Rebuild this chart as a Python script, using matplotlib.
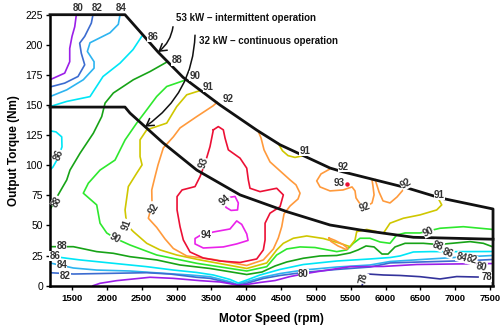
import numpy as np
import matplotlib.pyplot as plt

plt.rcParams['font.family'] = ['Liberation Sans', 'DejaVu Sans']

# operating envelopes (rpm, Nm)
int_rpm = [1184, 2260, 2734, 3093, 3624, 4155, 4485, 5202, 5389, 6307, 6781, 7541, 7541]
int_nm = [225, 225, 194, 173, 150, 129, 117, 97.7, 94.5, 81.2, 72.9, 63.7, 0]
cont_rpm = [1184, 2260, 2332, 2806, 3290, 3911, 4581, 5202, 5633, 6398, 7541]
cont_nm = [148.3, 148.3, 143.3, 118.6, 96, 75.4, 61.5, 50.4, 46.3, 40.2, 38.6]

c80_top_rpm = [1562, 1539, 1500, 1467, 1467, 1395, 1184]
c80_top_nm = [225, 215, 207, 197, 186, 176.5, 171]
c82_top_rpm = [1801, 1777, 1682, 1610, 1633, 1682, 1586, 1395, 1184]
c82_top_nm = [225, 218, 207, 201.4, 193, 183.4, 173.7, 168.2, 165]
c84_top_rpm = [2189, 2164, 2045, 1758, 1720, 1816, 1816, 1662, 1424, 1184]
c84_top_nm = [225, 217, 210, 201.7, 194.5, 186, 180.6, 171, 162.6, 157]
c86_top_rpm = [2500, 2375, 2189, 1945, 1758, 1424, 1184]
c86_top_nm = [207, 196, 184.8, 173.7, 157, 153, 148.7]
c86_left_rpm = [1184, 1270, 1352, 1356, 1299, 1227, 1184]
c86_left_nm = [128.6, 127.7, 123.6, 115.3, 106, 98.6, 96]
c88_top_rpm = [2870, 2619, 2380, 2093, 1974, 1926, 1806, 1615, 1471, 1424, 1232, 1184]
c88_top_nm = [186, 177.8, 171, 160, 151.6, 140.4, 126.6, 110, 96, 87.8, 68.5, 63]

c90_rpm = [3140, 2859, 2715, 2572, 2428, 2261, 2117, 1902, 1734, 1662, 1854, 1902, 1998, 2117,
           2332, 2715, 3289, 4007, 4294, 4437, 4581, 4772, 4987, 5299, 5442, 5537, 5633, 5776,
           5920, 6063, 6159, 6279, 6494, 6781, 7115, 7541]
c90_nm = [171, 165.4, 157.1, 146, 135, 121, 104.3, 96, 85.1, 76.8, 67.1, 51.9, 43.8, 39.4,
          33.8, 25.5, 18.6, 12.2, 15.8, 25.5, 30.5, 32.2, 31.7, 28.3, 29.7, 35.2, 39.4, 39.4,
          36.3, 35.2, 42.1, 43.8, 43.8, 47.7, 49, 46.7]

c91_rpm = [3337, 3146, 3002, 2859, 2572, 2476, 2476, 2505, 2428, 2308, 2261, 2285, 2380, 2572,
           2763, 3002, 3337, 4007, 4294, 4437, 4532, 4676, 4868, 5106, 5346, 5489, 5561, 5585,
           5729, 5824, 5967, 6063, 6254, 6494, 6733, 6805, 6750]
c91_nm = [162, 158.5, 148.7, 135, 129.4, 121.1, 107.2, 100.3, 93.4, 82.3, 62.9, 50.4, 44.9, 35.2,
          29.7, 25.5, 21.4, 14.3, 18.9, 29.7, 35.2, 39.4, 41.3, 39.2, 35.2, 32.4, 38, 44.9,
          46.7, 45.5, 43.5, 51.9, 56, 58.8, 62.9, 67.1, 73]
c91_arc_rpm = [4460, 4520, 4600, 4700, 4820]
c91_arc_nm = [118, 112, 108, 106.5, 108]

c92_rpm = [3581, 3523, 3289, 3050, 2954, 2810, 2734, 2691, 2644, 2648, 2595, 2715, 2835, 2954,
           3146, 3528, 4007, 4245, 4389, 4460, 4509, 4542, 4629, 4743, 4772, 4714, 4629, 4485,
           4341, 4255, 4212, 4170]
c92_nm = [152.2, 149.3, 140.4, 131, 123.6, 114.4, 100.3, 90.6, 79.5, 67.1, 56, 48.4, 38.8, 30.9,
          24.7, 21.8, 16.8, 21.4, 30.5, 39.6, 49, 59.6, 66.2, 72, 76.8, 83.7, 87.8, 95.3,
          102.8, 112.8, 122.7, 128.5]
c92_r1_rpm = [5188, 5073, 5011, 5059, 5202, 5389, 5518, 5561, 5575, 5633, 5719, 5805, 5834, 5820, 5805]
c92_r1_nm = [96.5, 92.8, 87, 82, 78.7, 79.5, 82, 78.7, 72.9, 67.9, 65.4, 68.7, 75.4, 82, 88]
c92_r2_rpm = [5850, 5905, 5963, 6063, 6164, 6280]
c92_r2_nm = [88, 77.9, 70.4, 68.7, 73.7, 81.5]
c92_s_rpm = [5188, 5274, 5389, 5461, 5432, 5317, 5217, 5188]
c92_s_nm = [39.6, 37.6, 34.2, 30.9, 30.1, 33, 36.7, 39.6]

c93_rpm = [3528, 3599, 3671, 3696, 3743, 3911, 4007, 4030, 4054, 4198, 4437, 4532, 4485, 4341,
           4270, 4270, 4245, 4150, 3911, 3624, 3384, 3193, 3097, 3050, 3007, 3007, 3079, 3265,
           3337, 3409, 3480, 3528]
c93_nm = [129.4, 132.1, 129.4, 122.5, 112.8, 105.9, 97.6, 87.8, 80.9, 78.1, 80.9, 75.4, 65.6, 60.2,
          51.9, 38, 29.7, 22.2, 19.3, 20.5, 23, 28, 38, 49, 62.9, 74, 79.5, 82.3,
          90.6, 101.7, 115.5, 129.4]
c93_dot_rpm = [5446]
c93_dot_nm = [84.1]

c94a_rpm = [3667, 3753, 3839, 3886, 3875, 3782, 3710, 3667]
c94a_nm = [69.6, 73.3, 74.1, 68.7, 62.9, 62.5, 65, 69.6]
c94b_rpm = [3380, 3528, 3767, 3863, 3935, 4007, 4026, 3863, 3671, 3384, 3265, 3265, 3337]
c94b_nm = [42.1, 44.6, 47.1, 53.8, 50.9, 43, 37.6, 34.7, 32.2, 31.3, 34.7, 39.2, 41.7]

c88_bot_rpm = [1184, 1519, 1854, 2093, 2332, 2715, 3050, 3480, 4007, 4227, 4414, 4581, 4819, 5059,
               5299, 5489, 5604, 5719, 5834, 5948, 6035, 6135, 6279, 6541, 6752, 6949, 7211, 7402, 7541]
c88_bot_nm = [32.4, 32.4, 28.3, 26.9, 24.1, 21.4, 17.2, 14.3, 9.3, 11.4, 16.4, 19.7, 22.8, 24.7,
              25.1, 27.2, 29.7, 33, 32.2, 26.3, 26.3, 32.2, 35.2, 35.2, 34.2, 35.2, 36.6, 35.2, 32.2]
c86_bot_rpm = [1184, 1424, 1615, 2093, 2572, 2954, 3289, 3528, 3767, 3886, 4007, 4198, 4485, 4819,
               5299, 5776, 6063, 6207, 6398, 6637, 7068, 7541]
c86_bot_nm = [24.7, 22.8, 21.4, 18.6, 15.8, 13, 11, 8.9, 5.2, 2.2, 4.7, 8.9, 13.5, 17.6,
              20.5, 22.2, 23.4, 24.7, 28, 28.3, 28.3, 28.4]
c84_bot_rpm = [1184, 1519, 1854, 2332, 2810, 3193, 3480, 3767, 3863, 4007, 4245, 4485, 4819, 5299,
               5776, 6063, 6637, 7092, 7541]
c84_bot_nm = [18.9, 14.7, 13, 12.2, 10.3, 8.9, 7.5, 3.3, 1.2, 3.3, 7.2, 10.1, 13, 15.5,
              17.2, 20.1, 22.2, 23.8, 25.1]
c82_bot_rpm = [1184, 1519, 2093, 2572, 2906, 3289, 3480, 3767, 3886, 4007, 4245, 4485, 4819, 5299,
               5776, 6063, 6494, 7240, 7541]
c82_bot_nm = [10.8, 9.7, 10.3, 10.8, 9.7, 7, 6.1, 2.2, 0.6, 2, 6, 8.5, 11, 13.5,
              15.5, 18.9, 19.7, 20.9, 21.8]
c80_bot_rpm = [1801, 1902, 2141, 2619, 2954, 3337, 3624, 3815, 3886, 4007, 4198, 4414, 4629, 4819,
               5011, 5489, 5967, 6446, 6924, 7541]
c80_bot_nm = [0, 2, 4.2, 7, 6.1, 4.2, 3.1, 1.2, 0.4, 1, 2.7, 4.3, 7.6, 9.7,
              11.6, 15.8, 16, 17.6, 18, 18.4]
c78_rpm = [5662, 5690, 5748, 5967, 6207, 6494, 6781, 7020, 7326]
c78_nm = [0, 6.4, 9.7, 8.9, 8.5, 7.5, 5.6, 7.6, 7.2]

# contour labels: text, rpm, Nm, rotation
lab_txt = ['80', '82', '84', '86', '88', '90', '91', '92', '91', '92', '93', '92', '91', '92',
           '93', '94', '94', '92', '91', '90', '88', '86', '88', '86', '84', '82', '80',
           '90', '88', '86', '84', '82', '80', '78', '78']
lab_rpm = [1586, 1859, 2199, 2658, 3002, 3265, 3456, 3743, 4844, 5393, 5336, 6293, 6771, 5705,
           3384, 3696, 3423, 2667, 2285, 2117, 1280, 1303, 1352, 1256, 1352, 1400, 4819,
           6613, 6756, 6900, 7092, 7236, 7379, 7451, 5680]
lab_nm = [230.5, 230.5, 230.5, 206.4, 187, 174.3, 164.9, 154.9, 112.2, 98.4, 85.6, 84.5, 75.4, 65.2,
          101.7, 71.2, 42.1, 64.3, 50.4, 39.4, 69.8, 108.6, 33, 24.7, 17.2, 8.1, 9.7,
          44.9, 33, 27.4, 23.6, 21.4, 15.8, 7, 6.1]
lab_rot = [0, 0, 0, 0, 0, 0, 0, 0, 0, 0, 0, 30, 0, 20,
           70, 40, 0, 60, 70, -30, 60, 70, 0, 0, 0, 0, 0,
           25, -20, -20, -15, -15, -10, 0, 80]

col = {78: '#34339b', 80: '#9b1fe8', 82: '#3c6cd0', 84: '#2db4f0', 86: '#00e6f6',
       88: '#17a317', 90: '#2ee82e', 91: '#cfc700', 92: '#ff9a3c', 93: '#ec1035', 94: '#ea22ea'}

lines = [
    (c80_top_rpm, c80_top_nm, 80), (c82_top_rpm, c82_top_nm, 82), (c84_top_rpm, c84_top_nm, 84),
    (c86_top_rpm, c86_top_nm, 86), (c86_left_rpm, c86_left_nm, 86), (c88_top_rpm, c88_top_nm, 88),
    (c90_rpm, c90_nm, 90), (c91_rpm, c91_nm, 91), (c91_arc_rpm, c91_arc_nm, 91),
    (c92_rpm, c92_nm, 92), (c92_r1_rpm, c92_r1_nm, 92), (c92_r2_rpm, c92_r2_nm, 92),
    (c92_s_rpm, c92_s_nm, 92), (c93_rpm, c93_nm, 93), (c94a_rpm, c94a_nm, 94),
    (c94b_rpm, c94b_nm, 94), (c88_bot_rpm, c88_bot_nm, 88), (c86_bot_rpm, c86_bot_nm, 86),
    (c84_bot_rpm, c84_bot_nm, 84), (c82_bot_rpm, c82_bot_nm, 82), (c80_bot_rpm, c80_bot_nm, 80),
    (c78_rpm, c78_nm, 78),
]

fig = plt.figure(figsize=(5, 3.26), dpi=100)
ax = fig.add_axes([0.1, 0.1236, 0.8866, 0.8313])

for x, y, lev in lines:
    ax.plot(x, y, color=col[lev], lw=1.2, solid_joinstyle='round', zorder=2)
ax.plot(c93_dot_rpm, c93_dot_nm, 'o', ms=2.2, color=col[93], zorder=4)

ax.plot(int_rpm, int_nm, color='#111111', lw=2, clip_on=False, zorder=3)
ax.plot(cont_rpm, cont_nm, color='#111111', lw=2, clip_on=False, zorder=3)

for t, x, y, r in zip(lab_txt, lab_rpm, lab_nm, lab_rot):
    ax.text(x, y, t, fontsize=7, fontweight='bold', color='#333333', rotation=r,
            ha='center', va='center', clip_on=False, zorder=5,
            bbox=dict(boxstyle='square,pad=0.02', fc='white', ec='none'))

ax.text(2992, 222.5, '53 kW \u2013 intermittent operation', fontsize=7, fontweight='bold',
        ha='left', va='center', color='#111111')
ax.text(3322, 203.3, '32 kW \u2013 continuous operation', fontsize=7, fontweight='bold',
        ha='left', va='center', color='#111111')
ax.annotate('', xy=(2734, 194), xytext=(2949, 215),
            arrowprops=dict(arrowstyle='->,head_length=0.5,head_width=0.3', lw=1.1, color='#111111',
                            connectionstyle='arc3,rad=-0.2', shrinkA=0, shrinkB=0))
ax.annotate('', xy=(2548, 132), xytext=(3265, 208),
            arrowprops=dict(arrowstyle='->,head_length=0.5,head_width=0.3', lw=1.1, color='#111111',
                            connectionstyle='arc3,rad=-0.25', shrinkA=0, shrinkB=0))

ax.set_xlim(1184, 7545)
ax.set_ylim(0, 225)
ax.set_xticks(np.arange(1500, 7501, 500))
ax.set_yticks(np.arange(0, 226, 25))
ax.tick_params(axis='x', labelsize=6.8, length=3, width=1, pad=3)
ax.tick_params(axis='y', labelsize=7.5, length=3, width=1, pad=2)
for lbl in ax.get_xticklabels():
    lbl.set_fontweight('bold')
ax.spines['top'].set_visible(False)
ax.spines['right'].set_visible(False)
ax.spines['left'].set_linewidth(1.8)
ax.spines['bottom'].set_linewidth(1.8)
ax.set_xlabel('Motor Speed (rpm)', fontsize=8.5, fontweight='bold', labelpad=7)
ax.set_ylabel('Output Torque (Nm)', fontsize=8.5, fontweight='bold', labelpad=4)

fig.savefig('out.png', dpi=100)
